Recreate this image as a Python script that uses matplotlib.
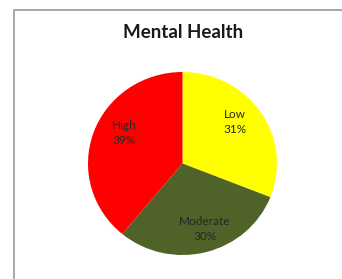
import matplotlib
matplotlib.use("Agg")
import matplotlib.pyplot as plt
from matplotlib.patches import Rectangle

# data
categories = ["Low", "Moderate", "High"]
shares = [31, 30, 39]
colors = ["#FFFF00", "#4F6228", "#FF0000"]

W, H = 342, 279
fig = plt.figure(figsize=(W / 100, H / 100), dpi=100)
fig.patch.set_facecolor("white")

# outer chart frame (top/left visible, right and bottom cut off)
fig.patches.append(Rectangle((13.5 / W, -0.1), 1.2, (H - 10) / H + 0.1,
                             transform=fig.transFigure, fill=False,
                             edgecolor="#a0a0a0", linewidth=1.3))

fig.text(183 / W, 1 - 33 / H, "Mental Health", ha="center", va="center",
         fontsize=13.5, fontweight="bold", family="Lato", color="#1a1a1a")

# pie area in pixels: center (182.5, 163.5), radii 94.5 x 91.5
cx, cy, rx, ry = 182.5, 163.5, 94.5, 91.5
ax = fig.add_axes([(cx - rx) / W, (H - cy - ry) / H, 2 * rx / W, 2 * ry / H])

labels = [f"{c}\n{s}%" for c, s in zip(categories, shares)]
wedges, texts = ax.pie(shares, labels=labels, colors=colors, startangle=90,
                       counterclock=False, labeldistance=0.72,
                       textprops=dict(fontsize=8.5, family="Lato", color="#262626",
                                      ha="center", va="center", linespacing=1.45))
# Excel-style label placement inside the slices
label_pos = [(0.556, 0.454), (0.238, -0.716), (-0.619, 0.333)]
for t, p in zip(texts, label_pos):
    t.set_position(p)

ax.set_aspect("auto")
ax.set_xlim(-1, 1)
ax.set_ylim(-1, 1)
ax.axis("off")

fig.savefig("out.png", dpi=100, facecolor="white")
